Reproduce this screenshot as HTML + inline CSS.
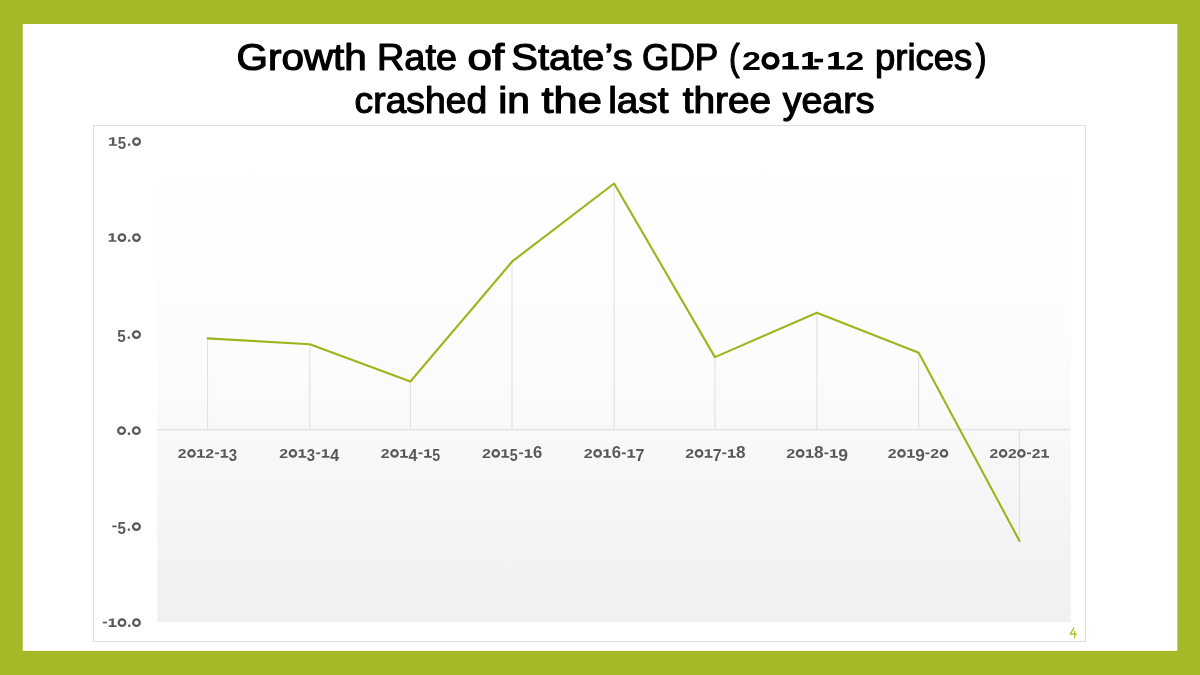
<!DOCTYPE html>
<html><head><meta charset="utf-8"><title>Growth Rate of State's GDP</title>
<style>
html,body{margin:0;padding:0;}
body{width:1200px;height:675px;overflow:hidden;background:#a5b826;font-family:"Liberation Sans",sans-serif;}
#slide{position:absolute;left:23px;top:24px;width:1154px;height:626px;background:#fff;}
svg{position:absolute;left:0;top:0;will-change:transform;font-family:"Liberation Sans",sans-serif;}
</style></head><body>
<div id="slide"></div>
<svg width="1200" height="675" viewBox="0 0 1200 675">
<rect x="22.2" y="23.5" width="1155.7" height="627.9" fill="#a0b318"/>
<rect x="22.7" y="24" width="1154.7" height="626.9" fill="#fff"/>
<rect x="93.5" y="125.5" width="992" height="516" fill="#fff" stroke="#dfdfdf" stroke-width="1.1"/>
<defs><linearGradient id="pg" x1="0" y1="0" x2="0" y2="1"><stop offset="0" stop-color="#ffffff"/><stop offset="0.45" stop-color="#fcfcfc"/><stop offset="1" stop-color="#f0f0f0"/></linearGradient></defs>
<rect x="157.3" y="141.0" width="913.5" height="481.2" fill="url(#pg)"/>
<line x1="157.3" y1="429.75" x2="1070.3" y2="429.75" stroke="#dadada" stroke-width="1.1"/>
<line x1="207.6" y1="338.4" x2="207.6" y2="429.75" stroke="#dedede" stroke-width="1"/>
<line x1="309.8" y1="344.2" x2="309.8" y2="429.75" stroke="#dedede" stroke-width="1"/>
<line x1="410.4" y1="381.5" x2="410.4" y2="429.75" stroke="#dedede" stroke-width="1"/>
<line x1="512.0" y1="261.7" x2="512.0" y2="429.75" stroke="#dedede" stroke-width="1"/>
<line x1="614.1" y1="183.5" x2="614.1" y2="429.75" stroke="#dedede" stroke-width="1"/>
<line x1="714.9" y1="357.1" x2="714.9" y2="429.75" stroke="#dedede" stroke-width="1"/>
<line x1="816.9" y1="312.8" x2="816.9" y2="429.75" stroke="#dedede" stroke-width="1"/>
<line x1="918.7" y1="352.8" x2="918.7" y2="429.75" stroke="#dedede" stroke-width="1"/>
<line x1="1019.4" y1="540.8" x2="1019.4" y2="429.75" stroke="#dedede" stroke-width="1"/>
<g style="filter:blur(0.35px)">
<g aria-label="2012-13" fill="#595959" font-weight="bold" text-anchor="middle"><text transform="translate(182.26,457.70) scale(1.282,1)" font-size="12.40">2</text><ellipse cx="191.52" cy="453.45" rx="3.23" ry="3.25" fill="none" stroke="#595959" stroke-width="2.20"/><path transform="translate(201.04,457.70)" d="M-3.81,0 H3.81 V-1.65 H1.15 V-8.50 H-0.65 L-3.71,-7.50 V-5.90 L-1.15,-6.70 V-1.65 H-3.81 Z"/><text transform="translate(209.80,457.70) scale(1.282,1)" font-size="12.40">2</text><rect x="215.06" y="452.45" width="4.01" height="1.75"/><path transform="translate(224.58,457.70)" d="M-3.81,0 H3.81 V-1.65 H1.15 V-8.50 H-0.65 L-3.71,-7.50 V-5.90 L-1.15,-6.70 V-1.65 H-3.81 Z"/><text transform="translate(232.99,460.70) scale(0.952,1)" font-size="15.70">3</text></g>
<g aria-label="2013-14" fill="#595959" font-weight="bold" text-anchor="middle"><text transform="translate(283.66,457.70) scale(1.282,1)" font-size="12.40">2</text><ellipse cx="292.92" cy="453.45" rx="3.23" ry="3.25" fill="none" stroke="#595959" stroke-width="2.20"/><path transform="translate(302.44,457.70)" d="M-3.81,0 H3.81 V-1.65 H1.15 V-8.50 H-0.65 L-3.71,-7.50 V-5.90 L-1.15,-6.70 V-1.65 H-3.81 Z"/><text transform="translate(310.85,460.70) scale(0.952,1)" font-size="15.70">3</text><rect x="316.16" y="452.45" width="4.01" height="1.75"/><path transform="translate(325.68,457.70)" d="M-3.81,0 H3.81 V-1.65 H1.15 V-8.50 H-0.65 L-3.71,-7.50 V-5.90 L-1.15,-6.70 V-1.65 H-3.81 Z"/><text transform="translate(334.59,460.70) scale(1.022,1)" font-size="15.70">4</text></g>
<g aria-label="2014-15" fill="#595959" font-weight="bold" text-anchor="middle"><text transform="translate(385.22,457.70) scale(1.288,1)" font-size="12.40">2</text><ellipse cx="394.53" cy="453.45" rx="3.24" ry="3.25" fill="none" stroke="#595959" stroke-width="2.20"/><path transform="translate(404.08,457.70)" d="M-3.82,0 H3.82 V-1.65 H1.16 V-8.50 H-0.65 L-3.72,-7.50 V-5.90 L-1.16,-6.70 V-1.65 H-3.82 Z"/><text transform="translate(413.04,460.70) scale(1.026,1)" font-size="15.70">4</text><rect x="418.47" y="452.45" width="4.02" height="1.75"/><path transform="translate(428.03,457.70)" d="M-3.82,0 H3.82 V-1.65 H1.16 V-8.50 H-0.65 L-3.72,-7.50 V-5.90 L-1.16,-6.70 V-1.65 H-3.82 Z"/><text transform="translate(436.28,460.70) scale(0.905,1)" font-size="15.70">5</text></g>
<g aria-label="2015-16" fill="#595959" font-weight="bold" text-anchor="middle"><text transform="translate(486.47,457.70) scale(1.288,1)" font-size="12.40">2</text><ellipse cx="495.78" cy="453.45" rx="3.24" ry="3.25" fill="none" stroke="#595959" stroke-width="2.20"/><path transform="translate(505.33,457.70)" d="M-3.82,0 H3.82 V-1.65 H1.16 V-8.50 H-0.65 L-3.72,-7.50 V-5.90 L-1.16,-6.70 V-1.65 H-3.82 Z"/><text transform="translate(513.59,460.70) scale(0.905,1)" font-size="15.70">5</text><rect x="519.12" y="452.45" width="4.02" height="1.75"/><path transform="translate(528.67,457.70)" d="M-3.82,0 H3.82 V-1.65 H1.16 V-8.50 H-0.65 L-3.72,-7.50 V-5.90 L-1.16,-6.70 V-1.65 H-3.82 Z"/><text transform="translate(537.63,457.70) scale(1.056,1)" font-size="15.70">6</text></g>
<g aria-label="2016-17" fill="#595959" font-weight="bold" text-anchor="middle"><text transform="translate(588.26,457.70) scale(1.300,1)" font-size="12.40">2</text><ellipse cx="597.65" cy="453.45" rx="3.27" ry="3.25" fill="none" stroke="#595959" stroke-width="2.20"/><path transform="translate(607.30,457.70)" d="M-3.86,0 H3.86 V-1.65 H1.17 V-8.50 H-0.66 L-3.76,-7.50 V-5.90 L-1.17,-6.70 V-1.65 H-3.86 Z"/><text transform="translate(616.34,457.70) scale(1.066,1)" font-size="15.70">6</text><rect x="621.82" y="452.45" width="4.06" height="1.75"/><path transform="translate(631.46,457.70)" d="M-3.86,0 H3.86 V-1.65 H1.17 V-8.50 H-0.66 L-3.76,-7.50 V-5.90 L-1.17,-6.70 V-1.65 H-3.86 Z"/><text transform="translate(640.04,460.70) scale(1.015,1)" font-size="15.70">7</text></g>
<g aria-label="2017-18" fill="#595959" font-weight="bold" text-anchor="middle"><text transform="translate(689.70,457.70) scale(1.295,1)" font-size="12.40">2</text><ellipse cx="699.06" cy="453.45" rx="3.26" ry="3.25" fill="none" stroke="#595959" stroke-width="2.20"/><path transform="translate(708.67,457.70)" d="M-3.85,0 H3.85 V-1.65 H1.16 V-8.50 H-0.66 L-3.75,-7.50 V-5.90 L-1.16,-6.70 V-1.65 H-3.85 Z"/><text transform="translate(717.22,460.70) scale(1.012,1)" font-size="15.70">7</text><rect x="722.23" y="452.45" width="4.05" height="1.75"/><path transform="translate(731.84,457.70)" d="M-3.85,0 H3.85 V-1.65 H1.16 V-8.50 H-0.66 L-3.75,-7.50 V-5.90 L-1.16,-6.70 V-1.65 H-3.85 Z"/><text transform="translate(740.85,457.70) scale(1.093,1)" font-size="15.70">8</text></g>
<g aria-label="2018-19" fill="#595959" font-weight="bold" text-anchor="middle"><text transform="translate(790.72,457.70) scale(1.304,1)" font-size="12.40">2</text><ellipse cx="800.14" cy="453.45" rx="3.28" ry="3.25" fill="none" stroke="#595959" stroke-width="2.20"/><path transform="translate(809.82,457.70)" d="M-3.87,0 H3.87 V-1.65 H1.17 V-8.50 H-0.66 L-3.77,-7.50 V-5.90 L-1.17,-6.70 V-1.65 H-3.87 Z"/><text transform="translate(818.88,457.70) scale(1.100,1)" font-size="15.70">8</text><rect x="824.38" y="452.45" width="4.07" height="1.75"/><path transform="translate(834.06,457.70)" d="M-3.87,0 H3.87 V-1.65 H1.17 V-8.50 H-0.66 L-3.77,-7.50 V-5.90 L-1.17,-6.70 V-1.65 H-3.87 Z"/><text transform="translate(843.12,460.70) scale(1.120,1)" font-size="15.70">9</text></g>
<g aria-label="2019-20" fill="#595959" font-weight="bold" text-anchor="middle"><text transform="translate(892.26,457.70) scale(1.284,1)" font-size="12.40">2</text><ellipse cx="901.54" cy="453.45" rx="3.23" ry="3.25" fill="none" stroke="#595959" stroke-width="2.20"/><path transform="translate(911.08,457.70)" d="M-3.81,0 H3.81 V-1.65 H1.15 V-8.50 H-0.65 L-3.71,-7.50 V-5.90 L-1.15,-6.70 V-1.65 H-3.81 Z"/><text transform="translate(920.01,460.70) scale(1.104,1)" font-size="15.70">9</text><rect x="925.42" y="452.45" width="4.01" height="1.75"/><text transform="translate(934.70,457.70) scale(1.284,1)" font-size="12.40">2</text><ellipse cx="943.99" cy="453.45" rx="3.23" ry="3.25" fill="none" stroke="#595959" stroke-width="2.20"/></g>
<g aria-label="2020-21" fill="#595959" font-weight="bold" text-anchor="middle"><text transform="translate(993.92,457.70) scale(1.269,1)" font-size="12.40">2</text><ellipse cx="1003.09" cy="453.45" rx="3.19" ry="3.25" fill="none" stroke="#595959" stroke-width="2.20"/><text transform="translate(1012.26,457.70) scale(1.269,1)" font-size="12.40">2</text><ellipse cx="1021.43" cy="453.45" rx="3.19" ry="3.25" fill="none" stroke="#595959" stroke-width="2.20"/><rect x="1026.99" y="452.45" width="3.97" height="1.75"/><text transform="translate(1036.16,457.70) scale(1.269,1)" font-size="12.40">2</text><path transform="translate(1045.23,457.70)" d="M-3.77,0 H3.77 V-1.65 H1.14 V-8.50 H-0.64 L-3.67,-7.50 V-5.90 L-1.14,-6.70 V-1.65 H-3.77 Z"/></g>
<g aria-label="15.0" fill="#595959" font-weight="bold" text-anchor="middle"><path transform="translate(113.14,145.80)" d="M-4.02,0 H4.02 V-1.65 H1.22 V-8.50 H-0.69 L-3.92,-7.50 V-5.90 L-1.22,-6.70 V-1.65 H-4.02 Z"/><text transform="translate(121.85,148.80) scale(0.953,1)" font-size="15.70">5</text><rect x="127.97" y="143.50" width="2.33" height="2.30" rx="0.6"/><ellipse cx="136.55" cy="141.55" rx="3.41" ry="3.25" fill="none" stroke="#595959" stroke-width="2.20"/></g>
<g aria-label="10.0" fill="#595959" font-weight="bold" text-anchor="middle"><path transform="translate(112.54,241.80)" d="M-3.93,0 H3.93 V-1.65 H1.19 V-8.50 H-0.67 L-3.83,-7.50 V-5.90 L-1.19,-6.70 V-1.65 H-3.93 Z"/><ellipse cx="121.96" cy="237.55" rx="3.33" ry="3.25" fill="none" stroke="#595959" stroke-width="2.20"/><rect x="128.07" y="239.50" width="2.28" height="2.30" rx="0.6"/><ellipse cx="136.45" cy="237.55" rx="3.33" ry="3.25" fill="none" stroke="#595959" stroke-width="2.20"/></g>
<g aria-label="5.0" fill="#595959" font-weight="bold" text-anchor="middle"><text transform="translate(121.42,341.80) scale(0.975,1)" font-size="15.70">5</text><rect x="127.67" y="336.50" width="2.38" height="2.30" rx="0.6"/><ellipse cx="136.44" cy="334.55" rx="3.49" ry="3.25" fill="none" stroke="#595959" stroke-width="2.20"/></g>
<g aria-label="0.0" fill="#595959" font-weight="bold" text-anchor="middle"><ellipse cx="121.55" cy="430.65" rx="3.41" ry="3.25" fill="none" stroke="#595959" stroke-width="2.20"/><rect x="127.79" y="432.60" width="2.33" height="2.30" rx="0.6"/><ellipse cx="136.35" cy="430.65" rx="3.41" ry="3.25" fill="none" stroke="#595959" stroke-width="2.20"/></g>
<g aria-label="-5.0" fill="#595959" font-weight="bold" text-anchor="middle"><rect x="112.32" y="525.55" width="4.26" height="1.75"/><text transform="translate(121.62,533.80) scale(0.960,1)" font-size="15.70">5</text><rect x="127.78" y="528.50" width="2.35" height="2.30" rx="0.6"/><ellipse cx="136.42" cy="526.55" rx="3.43" ry="3.25" fill="none" stroke="#595959" stroke-width="2.20"/></g>
<g aria-label="-10.0" fill="#595959" font-weight="bold" text-anchor="middle"><rect x="102.81" y="621.65" width="4.13" height="1.75"/><path transform="translate(112.61,626.90)" d="M-3.92,0 H3.92 V-1.65 H1.19 V-8.50 H-0.67 L-3.82,-7.50 V-5.90 L-1.19,-6.70 V-1.65 H-3.92 Z"/><ellipse cx="122.01" cy="622.65" rx="3.32" ry="3.25" fill="none" stroke="#595959" stroke-width="2.20"/><rect x="128.10" y="624.60" width="2.27" height="2.30" rx="0.6"/><ellipse cx="136.46" cy="622.65" rx="3.32" ry="3.25" fill="none" stroke="#595959" stroke-width="2.20"/></g>
</g>
<polyline points="207.6,338.4 309.8,344.2 410.4,381.5 512.0,261.7 614.1,183.5 714.9,357.1 816.9,312.8 918.7,352.8 1019.4,540.8" fill="none" stroke="#a0b31a" stroke-width="2.1" stroke-linejoin="round" stroke-linecap="round"/>
<g aria-label="4"><path d="M1074.0,627.9 L1070.3,634.1 H1076.6 M1074.6,631.2 V637.7" fill="none" stroke="#a5b826" stroke-width="1.15" stroke-linejoin="round" stroke-linecap="round"/></g>
<g style="filter:blur(0.35px)">
<text x="236.53" y="70.00" font-size="36" textLength="130.35" lengthAdjust="spacingAndGlyphs" fill="#000" stroke="#000" stroke-width="1.15" stroke-linejoin="round">Growth</text>
<text x="376.96" y="70.00" font-size="36" textLength="80.02" lengthAdjust="spacingAndGlyphs" fill="#000" stroke="#000" stroke-width="1.15" stroke-linejoin="round">Rate</text>
<text x="467.57" y="70.00" font-size="36" textLength="36.72" lengthAdjust="spacingAndGlyphs" fill="#000" stroke="#000" stroke-width="1.15" stroke-linejoin="round">of</text>
<text x="511.35" y="70.00" font-size="36" textLength="121.31" lengthAdjust="spacingAndGlyphs" fill="#000" stroke="#000" stroke-width="1.15" stroke-linejoin="round">State’s</text>
<text x="641.96" y="70.00" font-size="36" textLength="76.45" lengthAdjust="spacingAndGlyphs" fill="#000" stroke="#000" stroke-width="1.15" stroke-linejoin="round">GDP</text>
<text x="729.05" y="70.00" font-size="36" textLength="10.72" lengthAdjust="spacingAndGlyphs" fill="#000" stroke="#000" stroke-width="1.15" stroke-linejoin="round">(</text>
<text x="875.02" y="70.00" font-size="36" textLength="97.15" lengthAdjust="spacingAndGlyphs" fill="#000" stroke="#000" stroke-width="1.15" stroke-linejoin="round">prices</text>
<text x="975.39" y="70.00" font-size="36" textLength="11.08" lengthAdjust="spacingAndGlyphs" fill="#000" stroke="#000" stroke-width="1.15" stroke-linejoin="round">)</text>
<text x="354.61" y="113.00" font-size="36" textLength="132.49" lengthAdjust="spacingAndGlyphs" fill="#000" stroke="#000" stroke-width="1.15" stroke-linejoin="round">crashed</text>
<text x="498.25" y="113.00" font-size="36" textLength="31.70" lengthAdjust="spacingAndGlyphs" fill="#000" stroke="#000" stroke-width="1.15" stroke-linejoin="round">in</text>
<text x="541.46" y="113.00" font-size="36" textLength="60.32" lengthAdjust="spacingAndGlyphs" fill="#000" stroke="#000" stroke-width="1.15" stroke-linejoin="round">the</text>
<text x="608.16" y="113.00" font-size="36" textLength="60.28" lengthAdjust="spacingAndGlyphs" fill="#000" stroke="#000" stroke-width="1.15" stroke-linejoin="round">last</text>
<text x="682.65" y="113.00" font-size="36" textLength="88.45" lengthAdjust="spacingAndGlyphs" fill="#000" stroke="#000" stroke-width="1.15" stroke-linejoin="round">three</text>
<text x="782.69" y="113.00" font-size="36" textLength="91.87" lengthAdjust="spacingAndGlyphs" fill="#000" stroke="#000" stroke-width="1.15" stroke-linejoin="round">years</text>
<g aria-label="2011-12" fill="#000" font-weight="bold" text-anchor="middle"><text transform="translate(751.40,69.50) scale(1.344,1)" font-size="25.42">2</text><ellipse cx="770.50" cy="60.79" rx="6.93" ry="6.66" fill="none" stroke="#000" stroke-width="4.51"/><path transform="translate(790.61,69.50)" d="M-8.18,0 H8.18 V-3.38 H2.48 V-17.42 H-1.40 L-7.97,-15.37 V-12.09 L-2.48,-13.73 V-3.38 H-8.18 Z"/><path transform="translate(810.41,69.50)" d="M-8.18,0 H8.18 V-3.38 H2.48 V-17.42 H-1.40 L-7.97,-15.37 V-12.09 L-2.48,-13.73 V-3.38 H-8.18 Z"/><rect x="814.40" y="58.74" width="8.61" height="3.59"/><path transform="translate(836.41,69.50)" d="M-8.18,0 H8.18 V-3.38 H2.48 V-17.42 H-1.40 L-7.97,-15.37 V-12.09 L-2.48,-13.73 V-3.38 H-8.18 Z"/><text transform="translate(854.70,69.50) scale(1.344,1)" font-size="25.42">2</text></g>
</g>
</svg>
</body></html>
